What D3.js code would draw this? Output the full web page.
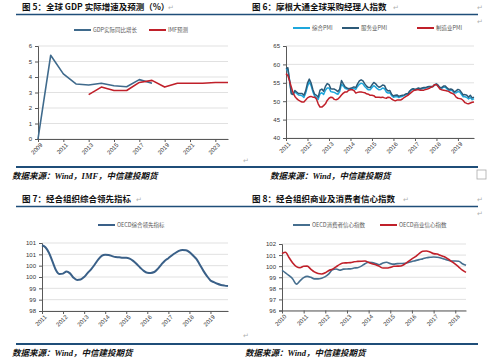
<!DOCTYPE html>
<html>
<head>
<meta charset="utf-8">
<script src="https://cdn.jsdelivr.net/npm/d3@7"></script>
<style>
  body { margin: 0; background: #fff; }
  svg { display: block; font-family: "Noto Sans CJK SC", "Noto Sans", sans-serif; }
</style>
</head>
<body>
<div id="chart"></div>
<script>
// ---- 图5 数据 ----
const gdpYears = [2009, 2010, 2011, 2012, 2013, 2014, 2015, 2016, 2017, 2018, 2019, 2020, 2021, 2022, 2023, 2024];
const gdpLabelYears = [2009, 2011, 2013, 2015, 2017, 2019, 2021, 2023];
const gdpActual = [0, 5.4, 4.2, 3.55, 3.48, 3.6, 3.44, 3.37, 3.83, 3.6];           // 2009-2018
const imfForecastYears = [2013, 2014, 2015, 2016, 2017, 2018, 2019, 2020, 2021, 2022, 2023, 2024];
const imfForecast = [2.86, 3.35, 3.13, 3.13, 3.65, 3.78, 3.35, 3.6, 3.6, 3.6, 3.65, 3.65];
const gdpTicks = [0, 1, 2, 3, 4, 5, 6];

// ---- 图6 数据（月度，2011-01 起）----
const pmiStart = "2011-01";
const pmiComposite = [
  58.5, 58.7, 55.7, 52.4, 51.9, 52.6, 52.1, 51.7, 51.6, 51.5,
  51.0, 52.2, 54.0, 55.2, 54.3, 52.6, 51.4, 51.0, 50.5, 52.0,
  52.3, 51.8, 53.0, 53.6, 53.6, 52.6, 52.5, 52.4, 52.1, 51.9,
  52.6, 54.6, 54.1, 53.5, 53.3, 53.3, 53.4, 53.5, 53.5, 53.2,
  54.0, 54.6, 54.9, 54.7, 54.0, 53.5, 53.1, 53.1, 53.7, 54.2,
  53.9, 53.4, 53.1, 53.2, 53.6, 53.4, 52.5, 52.2, 52.3, 51.5,
  51.1, 51.2, 51.3, 51.0, 51.2, 51.3, 51.5, 51.8, 51.9, 52.6,
  53.1, 53.3, 53.1, 53.2, 53.4, 53.2, 53.4, 53.5, 53.6, 53.8,
  53.9, 53.9, 54.0, 54.4, 54.6, 54.1, 53.6, 53.5, 53.8, 53.8,
  53.3, 52.9, 53.0, 52.8, 52.2, 52.3, 52.6, 52.5, 51.9, 51.2,
  51.2, 51.0, 50.6, 51.0, 50.4, 50.7
];
const pmiServices = [
  58.8, 59.1, 55.8, 52.0, 51.8, 52.9, 52.5, 52.1, 52.1, 52.1,
  51.6, 52.8, 54.9, 56.0, 55.0, 53.2, 51.9, 51.6, 51.1, 53.0,
  53.3, 52.7, 54.0, 54.8, 54.5, 53.4, 53.3, 53.3, 53.0, 52.6,
  53.3, 55.6, 54.7, 53.9, 53.6, 53.4, 53.5, 53.7, 53.9, 53.7,
  54.7, 55.5, 55.8, 55.5, 54.7, 54.1, 53.7, 53.7, 54.4, 55.1,
  54.8, 54.2, 53.8, 54.0, 54.4, 54.3, 53.2, 52.8, 52.9, 51.9,
  51.4, 51.6, 51.7, 51.3, 51.5, 51.6, 51.7, 52.0, 52.0, 52.7,
  53.2, 53.4, 53.2, 53.4, 53.6, 53.4, 53.6, 53.7, 53.7, 53.9,
  54.0, 54.0, 54.0, 54.5, 54.7, 54.3, 53.7, 53.7, 54.1, 54.1,
  53.6, 53.2, 53.3, 53.1, 52.5, 52.8, 53.2, 53.0, 52.4, 51.7,
  51.8, 51.6, 51.1, 51.6, 50.9, 51.1
];
const pmiManufacturing = [
  57.5, 57.0, 55.6, 53.9, 52.3, 51.3, 50.7, 50.3, 50.0, 49.8,
  49.8, 50.3, 50.9, 51.2, 51.3, 51.1, 51.1, 50.6, 49.3, 48.4,
  48.4, 48.8, 49.3, 50.2, 50.8, 51.1, 51.0, 50.5, 50.4, 50.6,
  51.1, 51.7, 52.2, 52.5, 52.5, 53.0, 53.1, 53.1, 52.9, 52.2,
  52.4, 52.5, 52.5, 52.4, 52.3, 52.0, 51.9, 51.6, 51.6, 51.5,
  51.1, 51.1, 51.1, 51.0, 51.1, 50.9, 50.8, 51.1, 51.0, 50.6,
  50.3, 50.1, 50.3, 50.3, 50.3, 50.6, 51.0, 51.3, 51.6, 52.0,
  52.4, 52.8, 53.0, 53.1, 53.1, 53.0, 53.0, 53.0, 53.2, 53.3,
  53.5, 53.8, 54.0, 54.5, 54.5, 53.9, 53.3, 53.1, 53.0, 52.9,
  52.8, 52.6, 52.3, 52.1, 51.8, 51.1, 50.8, 50.7, 50.6, 50.2,
  49.6, 49.4, 49.3, 49.5, 49.7, 49.8
];
const pmiTicks = [40, 45, 50, 55, 60, 65];

// ---- 图7 数据（每两个月，2011-01 起）----
const cliStart = "2011-01";
const oecdCli = [
  101.4, 101.31, 101.07, 100.69, 100.3, 100.13, 100.15, 100.24, 100.16, 99.97,
  99.87, 99.89, 100.0, 100.17, 100.34, 100.54, 100.77, 100.93, 100.98, 100.97,
  100.92, 100.88, 100.87, 100.85, 100.85, 100.81, 100.71, 100.57, 100.41, 100.27,
  100.19, 100.18, 100.22, 100.36, 100.55, 100.72, 100.83, 100.95, 101.06, 101.15,
  101.19, 101.18, 101.1, 100.96, 100.8, 100.54, 100.27, 100.04, 99.85, 99.77,
  99.7, 99.65, 99.62, 99.6
];
const cliTicks = [98.5, 99, 99.5, 100, 100.5, 101, 101.5];

// ---- 图8 数据（每两个月，2010-01 起）----
const confStart = "2010-01";
const oecdConsumer = [
  99.62, 99.4, 99.14, 98.85, 98.38, 98.68, 98.96, 99.08, 99.0, 98.85,
  98.85, 98.92, 99.06, 99.31, 99.68, 99.75, 99.64, 99.73, 99.75, 99.76,
  99.83, 99.86, 100.0, 100.22, 100.35, 100.32, 100.23, 100.13, 100.29, 100.35,
  100.23, 100.18, 100.23, 100.24, 100.25, 100.33, 100.43, 100.5, 100.59, 100.66,
  100.76, 100.8, 100.83, 100.8, 100.74, 100.64, 100.54, 100.46, 100.46, 100.45,
  100.22, 100.08
];
const oecdBusiness = [
  101.13, 101.25, 100.76, 100.29, 99.96, 99.86, 99.99, 100.0, 99.74, 99.48,
  99.34, 99.3, 99.4, 99.61, 99.72, 99.94, 100.16, 100.29, 100.3, 100.32,
  100.4, 100.43, 100.45, 100.46, 100.34, 100.21, 100.13, 99.98, 99.83, 99.83,
  99.89, 99.99, 100.0, 100.02, 100.18, 100.42, 100.66, 100.86, 101.14, 101.35,
  101.37, 101.28, 101.13, 101.09, 100.96, 100.85, 100.65, 100.42, 100.18, 99.92,
  99.64, 99.44
];
const confTicks = [96, 97, 98, 99, 100, 101, 102];

const rule = "#1f4e79";
const grid = "#d9d9d9";
const axisGray = "#595959";
const red = "#c0202a";

const svg = d3.select("#chart").append("svg")
    .attr("width", 500)
    .attr("height", 364);

// 标题、分隔线、数据来源
function frame(x0, x1, top, bottom, title, source, sx) {
    svg.append("text")
        .attr("x", x0 === 16 ? 22 : 252).attr("y", top - 5)
        .attr("font-size", 8.5).attr("font-weight", "bold").attr("fill", "#111")
        .text(title);
    svg.append("line")
        .attr("x1", x0).attr("x2", x1).attr("y1", top).attr("y2", top)
        .attr("stroke", rule).attr("stroke-width", 1.5);
    svg.append("line")
        .attr("x1", x0).attr("x2", x1).attr("y1", bottom).attr("y2", bottom)
        .attr("stroke", rule).attr("stroke-width", 2);
    svg.append("text")
        .attr("x", sx).attr("y", bottom + 12)
        .attr("font-size", 8.5).attr("font-weight", "bold").attr("font-style", "italic")
        .attr("font-family", "'Liberation Serif', 'Noto Sans CJK SC', serif")
        .attr("fill", "#111")
        .text(source);
}

function mark(x, y) {
    svg.append("text").attr("x", x).attr("y", y)
        .attr("font-size", 7).attr("fill", "#b0b0b0").text("↵");
}

function yAxis(y, x0, x1, ticks, fmt) {
    svg.append("g").selectAll("line").data(ticks).join("line")
        .attr("x1", x0).attr("x2", x1)
        .attr("y1", d => y(d)).attr("y2", d => y(d))
        .attr("stroke", grid).attr("stroke-width", 0.8);
    svg.append("g")
        .attr("transform", `translate(${x0},0)`)
        .call(d3.axisLeft(y).tickValues(ticks).tickFormat(fmt).tickSize(3).tickPadding(3))
        .call(g => g.select(".domain").attr("stroke", axisGray))
        .call(g => g.selectAll(".tick line").attr("stroke", axisGray))
        .call(g => g.selectAll("text").attr("font-size", 6).attr("fill", "#333")
            .attr("font-family", "'Liberation Sans', sans-serif"));
}

function xAxis(x, yPos, ticks, fmt) {
    svg.append("g")
        .attr("transform", `translate(0,${yPos})`)
        .call(d3.axisBottom(x).tickValues(ticks).tickFormat(fmt).tickSize(3).tickSizeOuter(0))
        .call(g => g.select(".domain").attr("stroke", axisGray))
        .call(g => g.selectAll(".tick line").attr("stroke", axisGray))
        .call(g => g.selectAll("text")
            .attr("font-size", 6).attr("fill", "#333")
            .attr("font-family", "'Liberation Sans', sans-serif")
            .attr("text-anchor", "end")
            .attr("x", 0).attr("y", 0).attr("dy", "0.35em")
            .attr("transform", "translate(3,5) rotate(-45)"));
}

function legend(items, y) {
    items.forEach(it => {
        svg.append("line")
            .attr("x1", it.x).attr("x2", it.x + 17).attr("y1", y).attr("y2", y)
            .attr("stroke", it.color).attr("stroke-width", 2);
        svg.append("text")
            .attr("x", it.x + 19).attr("y", y).attr("dy", "0.35em")
            .attr("font-size", 5.5).attr("fill", "#595959")
            .text(it.label);
    });
}

function path(data, x, y, color, width, curve) {
    svg.append("path")
        .datum(data)
        .attr("fill", "none")
        .attr("stroke", color)
        .attr("stroke-width", width)
        .attr("stroke-linejoin", "round")
        .attr("d", d3.line().x(d => x(d[0])).y(d => y(d[1])).curve(curve || d3.curveLinear));
}

const parseMonth = d3.timeParse("%Y-%m");
const monthly = (start, values, step) =>
    values.map((v, i) => [d3.timeMonth.offset(parseMonth(start), i * step), v]);
const yearTicks = (a, b) => d3.range(a, b + 1).map(yr => new Date(yr, 0, 1));

// ================= 图5 =================
frame(16, 250, 14.5, 167, "图 5：全球 GDP 实际增速及预测（%）", "数据来源：Wind，IMF，中信建投期货", 12);
mark(168, 10);
mark(243, 163);
{
    const x = d3.scalePoint().domain(gdpYears).range([38, 228]);
    const y = d3.scaleLinear().domain([0, 6]).range([139, 46]);
    yAxis(y, 38, 228, gdpTicks, d3.format("d"));
    xAxis(x, 139, gdpLabelYears, d => d);
    path(gdpActual.map((v, i) => [gdpYears[i], v]), x, y, "#3f6a8c", 1.6);
    path(imfForecast.map((v, i) => [imfForecastYears[i], v]), x, y, red, 1.6);
    legend([
        {x: 74, color: "#3f6a8c", label: "GDP实际同比增长"},
        {x: 149, color: red, label: "IMF预测"}
    ], 30);
}

// ================= 图6 =================
frame(250, 478, 14.5, 167, "图 6：摩根大通全球采购经理人指数", "数据来源：Wind，中信建投期货", 270);
mark(393, 10);
mark(477, 10);
mark(477, 24);
svg.append("rect").attr("x", 477).attr("y", 170).attr("width", 9).attr("height", 9)
    .attr("fill", "none").attr("stroke", "#aaa").attr("stroke-width", 0.8);
{
    const x = d3.scaleTime().domain([parseMonth("2011-01"), parseMonth("2019-10")]).range([286, 474]);
    const y = d3.scaleLinear().domain([40, 65]).range([138, 46]);
    yAxis(y, 286, 474, pmiTicks, d3.format("d"));
    xAxis(x, 138, yearTicks(2011, 2019), d3.timeFormat("%Y"));
    path(monthly(pmiStart, pmiComposite, 1), x, y, "#1ea7dc", 1.5);
    path(monthly(pmiStart, pmiServices, 1), x, y, "#2c5a78", 1.5);
    path(monthly(pmiStart, pmiManufacturing, 1), x, y, red, 1.5);
    legend([
        {x: 293, color: "#1ea7dc", label: "综合PMI"},
        {x: 342, color: "#2c5a78", label: "服务业PMI"},
        {x: 417, color: red, label: "制造业PMI"}
    ], 28);
}

// ================= 图7 =================
frame(16, 250, 206.5, 344, "图 7：经合组织综合领先指标", "数据来源：Wind，中信建投期货", 12);
mark(136, 202);
mark(243, 338);
{
    const x = d3.scaleTime().domain([parseMonth("2011-01"), parseMonth("2019-11")]).range([42, 228]);
    const y = d3.scaleLinear().domain([98.5, 101.5]).range([311, 243]);
    yAxis(y, 42, 228, cliTicks, d => Math.floor(d));
    xAxis(x, 311, yearTicks(2011, 2019), d3.timeFormat("%Y"));
    path(monthly(cliStart, oecdCli, 2), x, y, "#3a6088", 2, d3.curveMonotoneX);
    legend([{x: 98, color: "#3a6088", label: "OECD综合领先指标"}], 225);
}

// ================= 图8 =================
frame(250, 478, 206.5, 344, "图 8：经合组织商业及消费者信心指数", "数据来源：Wind，中信建投期货", 245);
mark(403, 202);
mark(477, 202);
mark(477, 216);
{
    const x = d3.scaleTime().domain([parseMonth("2010-01"), parseMonth("2018-07")]).range([282, 466]);
    const y = d3.scaleLinear().domain([96, 102]).range([310.5, 244]);
    yAxis(y, 282, 466, confTicks, d3.format("d"));
    xAxis(x, 310.5, yearTicks(2010, 2018), d3.timeFormat("%Y"));
    path(monthly(confStart, oecdConsumer, 2), x, y, "#466f8f", 1.6, d3.curveMonotoneX);
    path(monthly(confStart, oecdBusiness, 2), x, y, red, 1.6, d3.curveMonotoneX);
    legend([
        {x: 293, color: "#466f8f", label: "OECD消费者信心指数"},
        {x: 380, color: red, label: "OECD商业信心指数"}
    ], 225);
}
</script>
</body>
</html>
